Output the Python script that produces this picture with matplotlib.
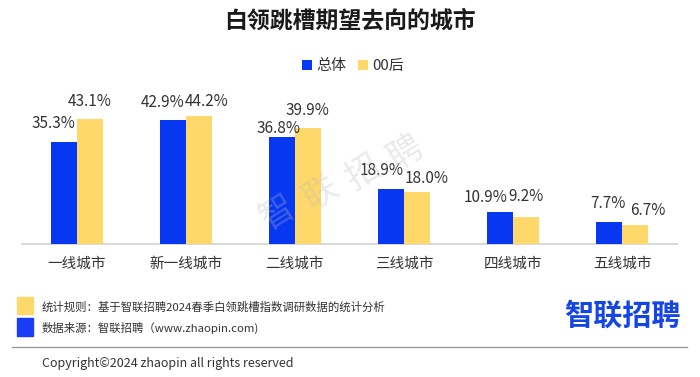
import matplotlib

matplotlib.use("agg")
import matplotlib.pyplot as plt
from matplotlib.patches import Rectangle
import numpy as np

plt.rcParams["font.family"] = ["Noto Sans CJK SC", "DejaVu Sans"]

# data
cities = ["一线城市", "新一线城市", "二线城市", "三线城市", "四线城市", "五线城市"]
overall = [35.3, 42.9, 36.8, 18.9, 10.9, 7.7]
gen00 = [43.1, 44.2, 39.9, 18.0, 9.2, 6.7]
series_names = ["总体", "00后"]

# hand-placed label offsets in pixels (dx, dy above bar top), like the original
overall_off = [(-10.5, 14), (-10.5, 13), (-3.5, 4), (-9, 14), (-15, 10), (-1, 14)]
gen00_off = [(0, 13), (7.7, 10), (0, 13), (10, 9), (0, 16), (12, 10)]

BLUE = "#0837f2"
YELLOW = "#ffd86b"
TXT = "#333333"
W, H = 700, 377

fig = plt.figure(figsize=(W / 100, H / 100), dpi=100)
ax = fig.add_axes([22 / W, (H - 244) / H, 655 / W, 154 / H])

x = np.arange(len(cities))
bw = 0.238
b1 = ax.bar(x - bw / 2, overall, bw, color=BLUE, label=series_names[0], zorder=3)
b2 = ax.bar(x + bw / 2, gen00, bw, color=YELLOW, label=series_names[1], zorder=3)

px = 0.72  # points per pixel at 100 dpi
for bars, vals, offs in [(b1, overall, overall_off), (b2, gen00, gen00_off)]:
    for rect, v, (dx, dy) in zip(bars, vals, offs):
        ax.annotate("{:.1f}%".format(v), (rect.get_x() + rect.get_width() / 2, v),
                    xytext=(dx * px, dy * px), textcoords="offset points",
                    ha="center", va="baseline", fontsize=11, color=TXT, zorder=4)

ax.set_xlim(-0.5, len(cities) - 0.5)
ax.set_ylim(0, 154 / 2.9)
ax.set_xticks(x)
ax.set_xticklabels(cities, fontsize=10.5, color=TXT)
ax.tick_params(axis="x", length=0, pad=9)
ax.set_yticks([])
for s in ["top", "left", "right"]:
    ax.spines[s].set_visible(False)
ax.spines["bottom"].set_color("#d9d9d9")
ax.spines["bottom"].set_linewidth(1.5)
ax.patch.set_alpha(0)

# faint watermark over the bars
wm_ax = fig.add_axes([0, 0, 1, 1], zorder=5)
wm_ax.set_xlim(0, W)
wm_ax.set_ylim(H, 0)
wm_ax.axis("off")
ang = np.deg2rad(25)
for i, ch in enumerate("智联招聘"):
    cx = 278 + i * 47 * np.cos(ang)
    cy = 213 - i * 47 * np.sin(ang)
    wm_ax.text(cx, cy, ch, fontsize=25, color="#bbbbbb", alpha=0.3, rotation=32,
               ha="center", va="center")

fig.text(0.5, 1 - 21 / H, "白领跳槽期望去向的城市", fontsize=16.5, fontweight="bold",
         color="#1a1a1a", ha="center", va="center")

fig.legend(handles=[b1, b2], labels=series_names, loc="center", ncol=2,
           bbox_to_anchor=(353 / W, 1 - 66 / H), frameon=False, fontsize=10.8,
           handlelength=0.65, handleheight=0.65, handletextpad=0.3,
           columnspacing=0.8, labelcolor=TXT)

# footer
fig.patches.append(Rectangle((17 / W, 1 - 314 / H), 16 / W, 17 / H,
                             transform=fig.transFigure, color=YELLOW))
fig.patches.append(Rectangle((17 / W, 1 - 336 / H), 16 / W, 18 / H,
                             transform=fig.transFigure, color="#1a3cf5"))
fig.text(42 / W, 1 - 307 / H, "统计规则：基于智联招聘2024春季白领跳槽指数调研数据的统计分析",
         fontsize=8.2, color=TXT, va="center")
fig.text(42 / W, 1 - 328 / H, "数据来源：智联招聘（www.zhaopin.com)",
         fontsize=8.2, color=TXT, va="center")
fig.add_artist(plt.Line2D([12 / W, 687 / W], [1 - 347 / H, 1 - 347 / H],
                          transform=fig.transFigure, color="#9a9a9a", lw=1))
fig.text(42 / W, 1 - 363 / H, "Copyright©2024 zhaopin all rights reserved",
         fontsize=9, color=TXT, va="center")
fig.text(622 / W, 1 - 316 / H, "智联招聘", fontsize=21, fontweight="bold",
         color="#1446e6", ha="center", va="center")

fig.savefig("out.png", dpi=100, facecolor="white")
